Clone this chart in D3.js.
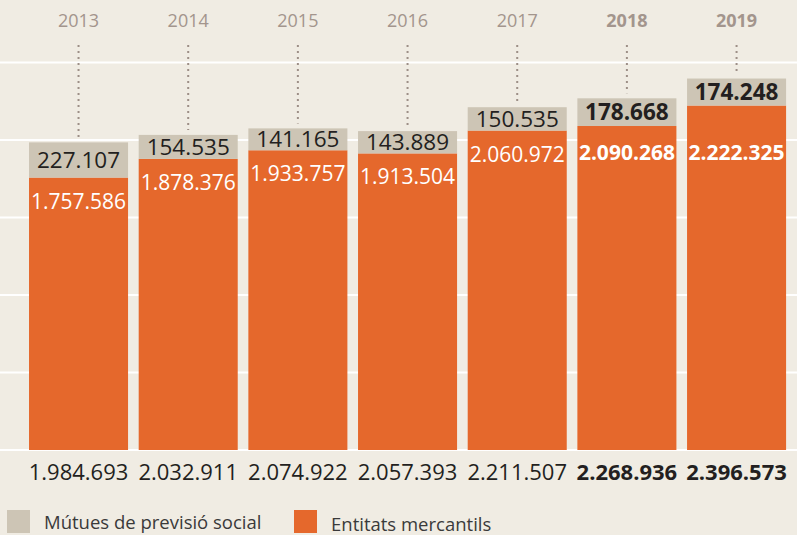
<!DOCTYPE html>
<html lang="ca">
<head>
  <meta charset="UTF-8" />
  <title>Mútues i entitats mercantils</title>
  <script src="https://d3js.org/d3.v7.min.js"></script>
  <style>
    body { margin: 0; background: #f0ece3; }
    svg { display: block; font-family: "Open Sans", sans-serif; }
  </style>
</head>
<body>
  <svg width="797" height="535"></svg>

  <script>
    // Data
    const years = ["2013", "2014", "2015", "2016", "2017", "2018", "2019"];
    const mutues = [227107, 154535, 141165, 143889, 150535, 178668, 174248];
    const mercantils = [1757586, 1878376, 1933757, 1913504, 2060972, 2090268, 2222325];
    const totals = [1984693, 2032911, 2074922, 2057393, 2211507, 2268936, 2396573];
    const boldYears = ["2018", "2019"];
    const gridValues = [0, 500000, 1000000, 1500000, 2000000, 2500000];

    const colGrey = "#cdc5b5", colOrange = "#e5682c";
    const fmt = v => d3.format(",")(v).replace(/,/g, ".");

    const data = years.map((y, i) => ({
      year: y, m: mutues[i], e: mercantils[i], total: totals[i],
      bold: boldYears.includes(y)
    }));

    const svg = d3.select("svg");

    const x = d3.scaleBand()
      .domain(years)
      .range([23.7, 791.4])
      .paddingInner(0.097)
      .paddingOuter(0.0485);

    const y = d3.scaleLinear()
      .domain([0, 2500000])
      .range([450, 62.5]);

    // white gridlines
    svg.append("g")
      .selectAll("line")
      .data(gridValues)
      .join("line")
      .attr("x1", 0).attr("x2", 797)
      .attr("y1", d => y(d)).attr("y2", d => y(d))
      .attr("stroke", "#fff")
      .attr("stroke-width", 2);

    // dotted leader lines
    svg.append("g")
      .selectAll("line")
      .data(data)
      .join("line")
      .attr("x1", d => x(d.year) + x.bandwidth() / 2)
      .attr("x2", d => x(d.year) + x.bandwidth() / 2)
      .attr("y1", 45)
      .attr("y2", d => y(d.e + d.m) - 5)
      .attr("stroke", "#9d8f87")
      .attr("stroke-width", 2)
      .attr("stroke-dasharray", "2,4");

    // orange bars
    svg.append("g")
      .selectAll("rect")
      .data(data)
      .join("rect")
      .attr("x", d => x(d.year))
      .attr("width", x.bandwidth())
      .attr("y", d => y(d.e))
      .attr("height", d => y(0) - y(d.e))
      .attr("fill", colOrange);

    // grey bars stacked on top
    svg.append("g")
      .selectAll("rect")
      .data(data)
      .join("rect")
      .attr("x", d => x(d.year))
      .attr("width", x.bandwidth())
      .attr("y", d => y(d.e + d.m))
      .attr("height", d => y(d.e) - y(d.e + d.m))
      .attr("fill", colGrey);

    // year labels
    svg.append("g")
      .selectAll("text")
      .data(data)
      .join("text")
      .attr("x", d => x(d.year) + x.bandwidth() / 2)
      .attr("y", 27)
      .attr("text-anchor", "middle")
      .attr("font-size", 18)
      .attr("font-weight", d => d.bold ? 700 : 400)
      .attr("fill", "#a3958d")
      .text(d => d.year);

    // grey segment labels
    svg.append("g")
      .selectAll("text")
      .data(data)
      .join("text")
      .attr("x", d => x(d.year) + x.bandwidth() / 2)
      .attr("y", d => (y(d.e) + y(d.e + d.m)) / 2 + 8)
      .attr("text-anchor", "middle")
      .attr("font-size", 22.5)
      .attr("font-weight", d => d.bold ? 700 : 400)
      .attr("fill", "#231f20")
      .text(d => fmt(d.m));

    // orange segment labels
    svg.append("g")
      .selectAll("text")
      .data(data)
      .join("text")
      .attr("x", d => x(d.year) + x.bandwidth() / 2)
      .attr("y", d => Math.max(y(d.e) + 31, 160))
      .attr("text-anchor", "middle")
      .attr("font-size", 21)
      .attr("font-weight", d => d.bold ? 700 : 400)
      .attr("fill", "#fff")
      .text(d => fmt(d.e));

    // totals under the bars
    svg.append("g")
      .selectAll("text")
      .data(data)
      .join("text")
      .attr("x", d => x(d.year) + x.bandwidth() / 2)
      .attr("y", 480)
      .attr("text-anchor", "middle")
      .attr("font-size", 22)
      .attr("font-weight", d => d.bold ? 700 : 400)
      .attr("fill", "#231f20")
      .text(d => fmt(d.total));

    // legend
    const legend = [
      { label: "Mútues de previsió social", color: colGrey, x: 7, ty: 529 },
      { label: "Entitats mercantils", color: colOrange, x: 294, ty: 531 }
    ];
    const lg = svg.append("g").selectAll("g").data(legend).join("g");
    lg.append("rect")
      .attr("x", d => d.x).attr("y", 510)
      .attr("width", 23).attr("height", 23)
      .attr("fill", d => d.color);
    lg.append("text")
      .attr("x", d => d.x + 37)
      .attr("y", d => d.ty)
      .attr("font-size", 18.5)
      .attr("fill", "#3a3a3a")
      .text(d => d.label);
  </script>
</body>
</html>
